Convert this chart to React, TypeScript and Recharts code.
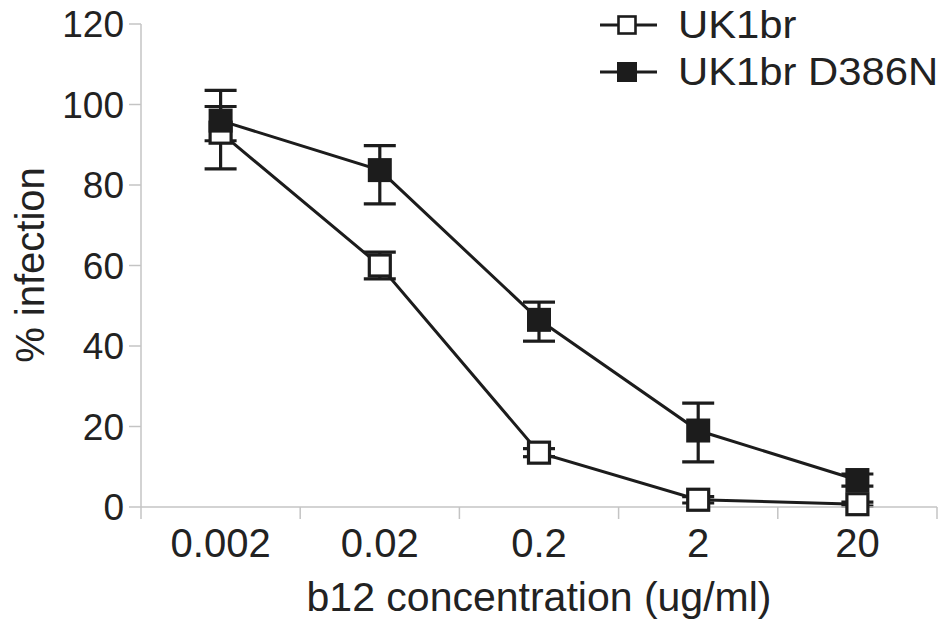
import React from 'react';
import { LineChart, Line, XAxis, YAxis, ErrorBar, Legend, Label } from 'recharts';

// b12 concentration (ug/ml) categories
const concentrations = ['0.002', '0.02', '0.2', '2', '20'];

// % infection
const uk1br = [93, 60, 13.5, 1.8, 0.7];
const uk1brErr = [[9, 6.5], [3.3, 3.3], [1, 1], [0.8, 0.8], [0.5, 0.5]];
const d386n = [96, 83.7, 46.5, 19, 6.7];
const d386nErr = [[5, 7.5], [8.4, 6.1], [5.3, 4.4], [7.8, 6.8], [1.5, 1.5]];

const yTicks = [0, 20, 40, 60, 80, 100, 120];

const data = concentrations.map((conc, i) => ({
  conc,
  uk1br: uk1br[i],
  uk1brErr: uk1brErr[i],
  d386n: d386n[i],
  d386nErr: d386nErr[i],
}));

const W = 938;
const H = 626;
const Y_AXIS_W = 141;
const MARGIN_RIGHT = 1;
const PLOT_W = W - Y_AXIS_W - MARGIN_RIGHT;
const BAND = PLOT_W / concentrations.length;

const INK = '#1c1c1c';
const GRID = '#c4c4c4';
const FONT = '"Liberation Sans", Arial, Helvetica, sans-serif';

// tick label in the band centre, tick marks on the band edges
const XTick = (props: any) => {
  const { x, y, payload, index } = props;
  const left = x - BAND / 2;
  const right = x + BAND / 2;
  return (
    <g>
      <line x1={left} x2={left} y1={y} y2={y + 12} stroke={GRID} strokeWidth={1.5} />
      {index === concentrations.length - 1 && (
        <line x1={right} x2={right} y1={y} y2={y + 12} stroke={GRID} strokeWidth={1.5} />
      )}
      <text x={x} y={y + 50} textAnchor="middle" fontSize={40} fontFamily={FONT} fill="#222">
        {payload.value}
      </text>
    </g>
  );
};

const OpenSquare = (props: any) => {
  const { cx, cy, key } = props;
  if (cx == null || cy == null) return <g key={key} />;
  return (
    <rect key={key} x={cx - 10.5} y={cy - 10.5} width={21} height={21} fill="#fff" stroke={INK} strokeWidth={3.2} />
  );
};

const FilledSquare = (props: any) => {
  const { cx, cy, key } = props;
  if (cx == null || cy == null) return <g key={key} />;
  return <rect key={key} x={cx - 12} y={cy - 12} width={24} height={24} fill={INK} />;
};

const renderLegend = (props: any) => {
  const { payload = [] } = props;
  return (
    <svg width={348} height={100} style={{ display: 'block' }}>
      {payload.map((entry: any, i: number) => {
        const cy = 25 + i * 47;
        const filled = entry.dataKey === 'd386n';
        return (
          <g key={entry.value}>
            <line x1={10} x2={67} y1={cy} y2={cy} stroke={INK} strokeWidth={3} />
            {filled ? (
              <rect x={27} y={cy - 10} width={20} height={20} fill={INK} />
            ) : (
              <rect x={28.5} y={cy - 8.5} width={17} height={17} fill="#fff" stroke={INK} strokeWidth={2.6} />
            )}
            <text
              transform={`translate(88 ${cy + 13}) scale(1.1 1)`}
              fontSize={38}
              fontFamily={FONT}
              fill="#222"
            >
              {entry.value}
            </text>
          </g>
        );
      })}
    </svg>
  );
};

export default function App() {
  return (
    <div style={{ position: 'absolute', left: 0, top: 0, width: W, height: H, background: '#fff' }}>
      <LineChart width={W} height={H} data={data} margin={{ top: 24, right: MARGIN_RIGHT, left: 0, bottom: 0 }}>
        <XAxis
          dataKey="conc"
          scale="band"
          height={119}
          tickLine={false}
          tickSize={0}
          tickMargin={0}
          axisLine={{ stroke: GRID, strokeWidth: 1.5 }}
          tick={<XTick />}
          interval={0}
        >
          <Label
            content={({ viewBox }: any) => (
              <text
                x={viewBox.x + viewBox.width / 2}
                y={viewBox.y + 104}
                textAnchor="middle"
                fontSize={41}
                fontFamily={FONT}
                fill="#222"
              >
                b12 concentration (ug/ml)
              </text>
            )}
          />
        </XAxis>
        <YAxis
          width={Y_AXIS_W}
          domain={[0, 120]}
          ticks={yTicks}
          interval={0}
          tickSize={12}
          tickMargin={5}
          axisLine={{ stroke: GRID, strokeWidth: 1.5 }}
          tickLine={{ stroke: GRID, strokeWidth: 1.5 }}
          tick={{ fontSize: 37, fontFamily: FONT, fill: '#222' }}
        >
          <Label
            content={() => (
              <text
                x={0}
                y={0}
                transform="translate(44 265) rotate(-90)"
                textAnchor="middle"
                fontSize={40}
                fontFamily={FONT}
                fill="#222"
              >
                % infection
              </text>
            )}
          />
        </YAxis>
        <Legend
          layout="vertical"
          align="center"
          verticalAlign="middle"
          content={renderLegend}
          wrapperStyle={{ top: 0, left: 590, width: 348, height: 100 }}
        />
        <Line
          dataKey="uk1br"
          name="UK1br"
          type="linear"
          stroke={INK}
          strokeWidth={3}
          dot={OpenSquare}
          activeDot={false}
          isAnimationActive={false}
        >
          <ErrorBar dataKey="uk1brErr" width={16} stroke={INK} strokeWidth={3.2} direction="y" />
        </Line>
        <Line
          dataKey="d386n"
          name="UK1br D386N"
          type="linear"
          stroke={INK}
          strokeWidth={3}
          dot={FilledSquare}
          activeDot={false}
          isAnimationActive={false}
        >
          <ErrorBar dataKey="d386nErr" width={16} stroke={INK} strokeWidth={3.2} direction="y" />
        </Line>
      </LineChart>
    </div>
  );
}
